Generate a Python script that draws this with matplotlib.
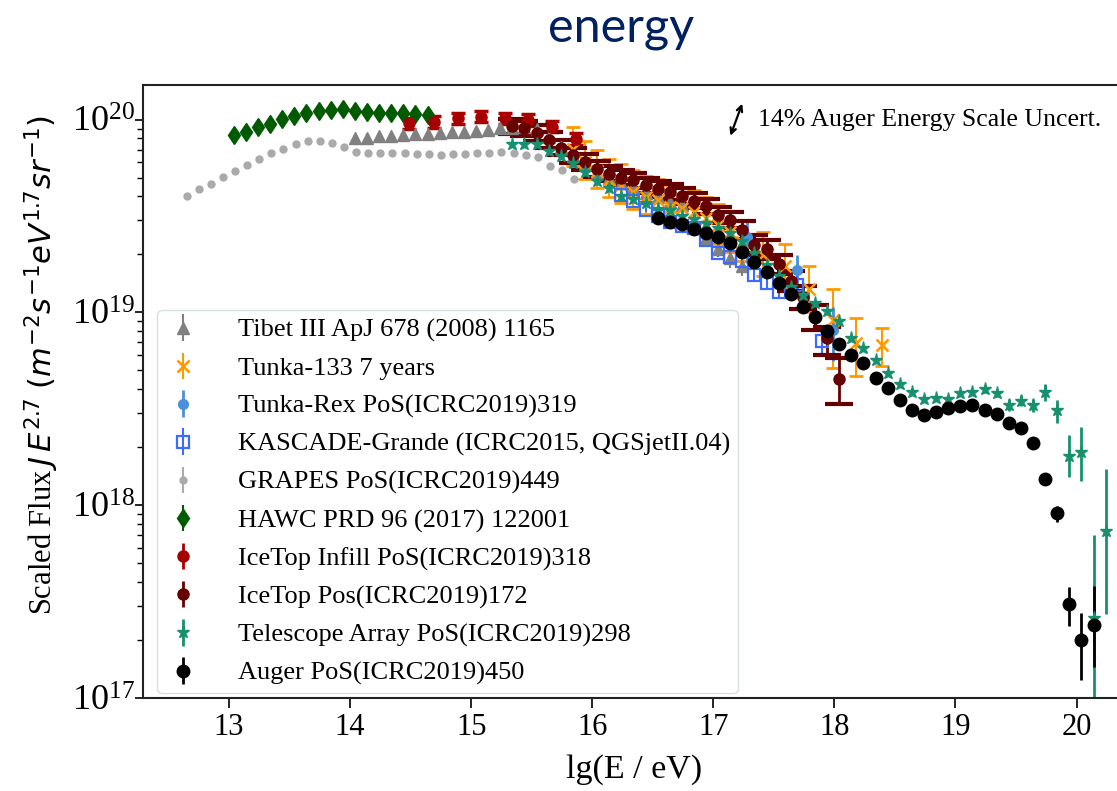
import numpy as np
import matplotlib
matplotlib.use('Agg')
import matplotlib.pyplot as plt

plt.rcParams['font.family'] = ['Liberation Serif', 'DejaVu Serif']
plt.rcParams['mathtext.fontset'] = 'dejavusans'

# all energies are lg(E/eV), all fluxes are log10 of J*E^2.7
tibet_lge = [14.04, 14.14, 14.24, 14.34, 14.44, 14.54, 14.64, 14.74, 14.84, 14.94,
             15.04, 15.14, 15.24, 15.34, 15.44, 15.54, 15.64, 15.74, 15.84, 15.94,
             16.04, 16.14, 16.24, 16.34, 16.44, 16.54, 16.64, 16.74, 16.84, 16.94,
             17.04, 17.14, 17.24]
tibet_lf = [19.907, 19.907, 19.915, 19.917, 19.921, 19.924, 19.926, 19.933, 19.936, 19.938,
            19.943, 19.948, 19.955, 19.959, 19.96, 19.95, 19.91, 19.86, 19.81, 19.77,
            19.73, 19.70, 19.67, 19.65, 19.62, 19.598, 19.575, 19.555, 19.47, 19.385,
            19.33, 19.28, 19.24]
tibet_err = [0.01, 0.01, 0.01, 0.01, 0.01, 0.01, 0.01, 0.01, 0.01, 0.01,
             0.01, 0.01, 0.01, 0.01, 0.01, 0.01, 0.01, 0.01, 0.01, 0.01,
             0.01, 0.01, 0.01, 0.01, 0.01, 0.015, 0.015, 0.02, 0.03, 0.04,
             0.04, 0.05, 0.05]

tunka133_lge = [15.84, 15.94, 16.04, 16.14, 16.24, 16.34, 16.44, 16.54, 16.64, 16.74,
                16.84, 16.94, 17.04, 17.14, 17.24, 17.41, 17.59, 17.79, 17.99, 18.18, 18.39]
tunka133_lf = [19.85, 19.78, 19.735, 19.687, 19.66, 19.627, 19.60, 19.584, 19.549, 19.54,
               19.523, 19.49, 19.455, 19.415, 19.368, 19.30, 19.24, 19.12, 18.96, 18.84, 18.83]
tunka133_lo = [0.09, 0.09, 0.09, 0.09, 0.09, 0.09, 0.09, 0.09, 0.09, 0.09,
               0.09, 0.10, 0.10, 0.10, 0.10, 0.11, 0.11, 0.12, 0.25, 0.17, 0.11]
tunka133_hi = [0.11, 0.11, 0.11, 0.11, 0.11, 0.11, 0.11, 0.11, 0.11, 0.11,
               0.11, 0.11, 0.11, 0.11, 0.11, 0.12, 0.115, 0.12, 0.16, 0.13, 0.09]

tunkarex_lge = [17.28, 17.69, 17.99]
tunkarex_lf = [19.39, 19.22, 18.91]
tunkarex_lo = [0.135, 0.10, 0.16]
tunkarex_hi = [0.09, 0.08, 0.12]

kg_lge = [16.24, 16.34, 16.44, 16.54, 16.64, 16.74, 16.84, 16.94, 17.04, 17.14,
          17.24, 17.34, 17.44, 17.54, 17.69, 17.90]
kg_lf = [19.609, 19.580, 19.532, 19.50, 19.471, 19.45, 19.437, 19.376, 19.307, 19.289,
         19.267, 19.192, 19.152, 19.108, 19.143, 18.853]
kg_err = [0.01, 0.01, 0.01, 0.01, 0.015, 0.015, 0.02, 0.02, 0.02, 0.025,
          0.025, 0.03, 0.03, 0.035, 0.05, 0.075]

grapes_lge = [12.65, 12.75, 12.85, 12.95, 13.05, 13.15, 13.25, 13.35, 13.45, 13.55,
              13.65, 13.75, 13.85, 13.95, 14.05, 14.15, 14.25, 14.35, 14.45, 14.55,
              14.65, 14.75, 14.85, 14.95, 15.05, 15.15, 15.25, 15.35, 15.45, 15.55,
              15.65, 15.75, 15.85]
grapes_lf = [19.603, 19.641, 19.665, 19.703, 19.734, 19.765, 19.798, 19.826, 19.850, 19.874,
             19.890, 19.888, 19.879, 19.860, 19.834, 19.829, 19.829, 19.827, 19.826, 19.824,
             19.821, 19.817, 19.821, 19.822, 19.826, 19.827, 19.834, 19.829, 19.819, 19.807,
             19.761, 19.738, 19.691]

hawc_lge = [13.04, 13.14, 13.24, 13.34, 13.44, 13.54, 13.64, 13.74, 13.84, 13.94,
            14.04, 14.14, 14.24, 14.34, 14.44, 14.54, 14.64]
hawc_lf = [19.921, 19.938, 19.961, 19.978, 20.002, 20.019, 20.033, 20.045, 20.05, 20.054,
           20.047, 20.038, 20.033, 20.033, 20.033, 20.030, 20.026]

infill_lge = [14.49, 14.69, 14.89, 15.08, 15.28, 15.47, 15.67, 15.87]
infill_lf = [19.981, 19.987, 20.007, 20.016, 20.007, 19.998, 19.964, 19.90]

icetop_lge = [15.34, 15.44, 15.54, 15.64, 15.74, 15.84, 15.94, 16.04, 16.14, 16.24,
              16.34, 16.44, 16.54, 16.64, 16.74, 16.84, 16.94, 17.04, 17.14, 17.24,
              17.34, 17.44, 17.54, 17.64, 17.74, 17.84, 17.94, 18.04]
icetop_lf = [19.965, 19.955, 19.93, 19.895, 19.855, 19.815, 19.78, 19.745, 19.72, 19.70,
             19.685, 19.66, 19.64, 19.625, 19.605, 19.58, 19.55, 19.506, 19.48, 19.428,
             19.35, 19.328, 19.25, 19.165, 19.08, 18.98, 18.866, 18.653]
icetop_lo = [0.04, 0.04, 0.04, 0.04, 0.04, 0.04, 0.04, 0.04, 0.04, 0.04,
             0.04, 0.04, 0.04, 0.04, 0.04, 0.04, 0.04, 0.04, 0.04, 0.045,
             0.05, 0.05, 0.05, 0.055, 0.06, 0.07, 0.086, 0.13]
icetop_hi = [0.04, 0.04, 0.04, 0.04, 0.04, 0.04, 0.04, 0.04, 0.04, 0.04,
             0.04, 0.04, 0.04, 0.04, 0.04, 0.04, 0.04, 0.04, 0.04, 0.045,
             0.05, 0.05, 0.05, 0.05, 0.055, 0.06, 0.06, 0.11]

ta_lge = [15.34, 15.44, 15.54, 15.64, 15.74, 15.84, 15.94, 16.04, 16.14, 16.24,
          16.34, 16.44, 16.54, 16.64, 16.74, 16.84, 16.94, 17.04, 17.14, 17.24,
          17.34, 17.44, 17.54, 17.64, 17.74, 17.84, 17.94, 18.04, 18.14, 18.24,
          18.34, 18.44, 18.54, 18.64, 18.74, 18.84, 18.94, 19.04, 19.14, 19.24,
          19.34, 19.44, 19.54, 19.64, 19.74, 19.84, 19.94, 20.04, 20.14, 20.24]
ta_lf = [19.872, 19.872, 19.872, 19.839, 19.813, 19.774, 19.727, 19.684, 19.644, 19.604,
         19.587, 19.566, 19.535, 19.532, 19.501, 19.483, 19.463, 19.437, 19.411, 19.37,
         19.31, 19.246, 19.189, 19.131, 19.091, 19.048, 19.009, 18.956, 18.866, 18.817,
         18.754, 18.688, 18.629, 18.586, 18.550, 18.558, 18.551, 18.581, 18.588, 18.602,
         18.584, 18.520, 18.543, 18.520, 18.589, 18.494, 18.256, 18.278, 17.414, 17.868]
ta_lo = [0.01, 0.01, 0.01, 0.01, 0.01, 0.01, 0.01, 0.01, 0.01, 0.01,
         0.01, 0.01, 0.01, 0.01, 0.01, 0.01, 0.01, 0.01, 0.01, 0.01,
         0.01, 0.01, 0.01, 0.01, 0.01, 0.01, 0.01, 0.01, 0.01, 0.01,
         0.01, 0.01, 0.01, 0.01, 0.01, 0.01, 0.01, 0.015, 0.015, 0.02,
         0.02, 0.03, 0.03, 0.035, 0.05, 0.07, 0.11, 0.15, 0.50, 0.43]
ta_hi = [0.01, 0.01, 0.01, 0.01, 0.01, 0.01, 0.01, 0.01, 0.01, 0.01,
         0.01, 0.01, 0.01, 0.01, 0.01, 0.01, 0.01, 0.01, 0.01, 0.01,
         0.01, 0.01, 0.01, 0.01, 0.01, 0.01, 0.01, 0.01, 0.01, 0.01,
         0.01, 0.01, 0.01, 0.01, 0.01, 0.01, 0.01, 0.015, 0.015, 0.02,
         0.02, 0.03, 0.03, 0.03, 0.04, 0.05, 0.11, 0.13, 0.43, 0.32]

auger_lge = [16.54, 16.64, 16.74, 16.84, 16.94, 17.04, 17.14, 17.24, 17.34, 17.44,
             17.54, 17.64, 17.74, 17.84, 17.94, 18.04, 18.14, 18.24, 18.34, 18.44,
             18.54, 18.64, 18.74, 18.84, 18.94, 19.04, 19.14, 19.24, 19.34, 19.44,
             19.54, 19.64, 19.74, 19.84, 19.94, 20.04, 20.14]
auger_lf = [19.489, 19.471, 19.457, 19.432, 19.411, 19.390, 19.362, 19.315, 19.263, 19.212,
            19.151, 19.094, 19.027, 18.975, 18.904, 18.835, 18.780, 18.736, 18.659, 18.607,
            18.546, 18.494, 18.468, 18.485, 18.503, 18.515, 18.520, 18.494, 18.472, 18.428,
            18.402, 18.325, 18.135, 17.958, 17.486, 17.301, 17.379]
auger_lo = [0.005, 0.005, 0.005, 0.005, 0.005, 0.005, 0.005, 0.005, 0.005, 0.005,
            0.005, 0.005, 0.005, 0.005, 0.005, 0.005, 0.005, 0.005, 0.005, 0.005,
            0.005, 0.005, 0.005, 0.005, 0.005, 0.005, 0.005, 0.005, 0.005, 0.005,
            0.005, 0.01, 0.015, 0.045, 0.115, 0.21, 0.22]
auger_hi = [0.005, 0.005, 0.005, 0.005, 0.005, 0.005, 0.005, 0.005, 0.005, 0.005,
            0.005, 0.005, 0.005, 0.005, 0.005, 0.005, 0.005, 0.005, 0.005, 0.005,
            0.005, 0.005, 0.005, 0.005, 0.005, 0.005, 0.005, 0.005, 0.005, 0.005,
            0.005, 0.01, 0.015, 0.04, 0.09, 0.14, 0.20]


def flux(lf):
    return 10 ** np.asarray(lf, dtype=float)


def dex_err(lf, lo, hi):
    f = flux(lf)
    return [f - f * 10 ** (-np.asarray(lo, dtype=float)), f * 10 ** np.asarray(hi, dtype=float) - f]


def caps(ax, lge, lf, lo, hi, color, size, thick):
    # bare caps (no bar, no marker), kept out of the legend
    ax.errorbar(lge, flux(lf), yerr=dex_err(lf, lo, hi), fmt='none', ecolor=color,
                elinewidth=0, capsize=size, capthick=thick)


fig = plt.figure(figsize=(11.17, 7.91), dpi=100)
ax = fig.add_axes([143 / 1117, 93 / 791, 982 / 1117, 613 / 791])

ax.errorbar(tibet_lge, flux(tibet_lf), yerr=dex_err(tibet_lf, tibet_err, tibet_err),
            fmt='^', color='#808080', ms=8, elinewidth=1.5, label='Tibet III ApJ 678 (2008) 1165')

caps(ax, tunka133_lge, tunka133_lf, tunka133_lo, tunka133_hi, '#ff9900', 5, 2)
ax.errorbar(tunka133_lge, flux(tunka133_lf), yerr=dex_err(tunka133_lf, tunka133_lo, tunka133_hi),
            fmt='x', color='#ff9900', ms=8, mew=1.8, elinewidth=1.5, label='Tunka-133 7 years')

ax.errorbar(tunkarex_lge, flux(tunkarex_lf), yerr=dex_err(tunkarex_lf, tunkarex_lo, tunkarex_hi),
            fmt='o', color='#4a8fdc', ms=7, elinewidth=2, label='Tunka-Rex PoS(ICRC2019)319')
ax.errorbar(kg_lge, flux(kg_lf), yerr=dex_err(kg_lf, kg_err, kg_err),
            fmt='s', color='#3d6bff', mfc='none', ms=8, mew=1.6, elinewidth=1.5,
            label='KASCADE-Grande (ICRC2015, QGSjetII.04)')
ax.errorbar(grapes_lge, flux(grapes_lf), yerr=dex_err(grapes_lf, 0.003, 0.003),
            fmt='o', color='#aaaaaa', ms=5, elinewidth=1.5, label='GRAPES PoS(ICRC2019)449')
ax.errorbar(hawc_lge, flux(hawc_lf), yerr=dex_err(hawc_lf, 0.005, 0.005),
            fmt='d', color='#005a00', ms=9.5, elinewidth=1.5, label='HAWC PRD 96 (2017) 122001')

caps(ax, infill_lge, infill_lf, 0.03, 0.03, '#a80000', 5, 2.5)
ax.errorbar(infill_lge, flux(infill_lf), yerr=dex_err(infill_lf, 0.03, 0.03),
            fmt='o', color='#a80000', ms=8, elinewidth=2, label='IceTop Infill PoS(ICRC2019)318')

caps(ax, icetop_lge, icetop_lf, icetop_lo, icetop_hi, '#650000', 10, 3)
ax.errorbar(icetop_lge, flux(icetop_lf), yerr=dex_err(icetop_lf, icetop_lo, icetop_hi),
            fmt='o', color='#650000', ms=8, elinewidth=2, label='IceTop Pos(ICRC2019)172')

ax.errorbar(ta_lge, flux(ta_lf), yerr=dex_err(ta_lf, ta_lo, ta_hi),
            fmt='*', color='#17906f', ms=9.5, elinewidth=2, label='Telescope Array PoS(ICRC2019)298')
ax.errorbar(auger_lge, flux(auger_lf), yerr=dex_err(auger_lf, auger_lo, auger_hi),
            fmt='o', color='black', ms=9, elinewidth=2, label='Auger PoS(ICRC2019)450')

ax.set_yscale('log')
ax.set_xlim(12.29, 20.40)
ax.set_ylim(1e17, 10 ** 20.18)
ax.set_xticks(range(13, 21))
ax.tick_params(axis='x', which='major', labelsize=22, length=7, width=1.2, direction='out')
ax.tick_params(axis='y', which='major', labelsize=26, length=6, width=1.2, pad=0, direction='out')
ax.tick_params(axis='y', which='minor', length=4, width=1.0, direction='out')
for sp in ax.spines.values():
    sp.set_linewidth(1.5)
    sp.set_color('#222222')

ax.set_xlabel('lg(E / eV)', fontsize=24.5, labelpad=9)
ax.set_ylabel(r'Scaled Flux$\,J\,E^{2.7}\;(m^{-2}s^{-1}eV^{1.7}sr^{-1})$', fontsize=22)
ax.yaxis.set_label_coords(-0.083, 0.543)

# energy scale uncertainty arrow: +-14% in E moves the point along E^1.7
shift = np.log10(1.14)
ax.annotate('', xy=(17.19 + shift, 1e20 * 1.14 ** 1.7), xytext=(17.19 - shift, 1e20 / 1.14 ** 1.7),
            arrowprops=dict(arrowstyle='<->', lw=1.6, color='black'))
ax.text(17.37, 1e20, '14% Auger Energy Scale Uncert.', fontsize=18.5, va='center', ha='left')

leg = ax.legend(loc='lower left', bbox_to_anchor=(0.0143, 0.008), borderaxespad=0,
                fontsize=19, handletextpad=1.38, labelspacing=0.54, handlelength=1.4,
                borderpad=0.3, framealpha=0.8, edgecolor='#cfd8d8')

fig.text(0.556, 0.947, 'energy', fontsize=35, color='#002060', family='Lato',
         ha='center', va='baseline')

fig.savefig('out.png', dpi=100)
